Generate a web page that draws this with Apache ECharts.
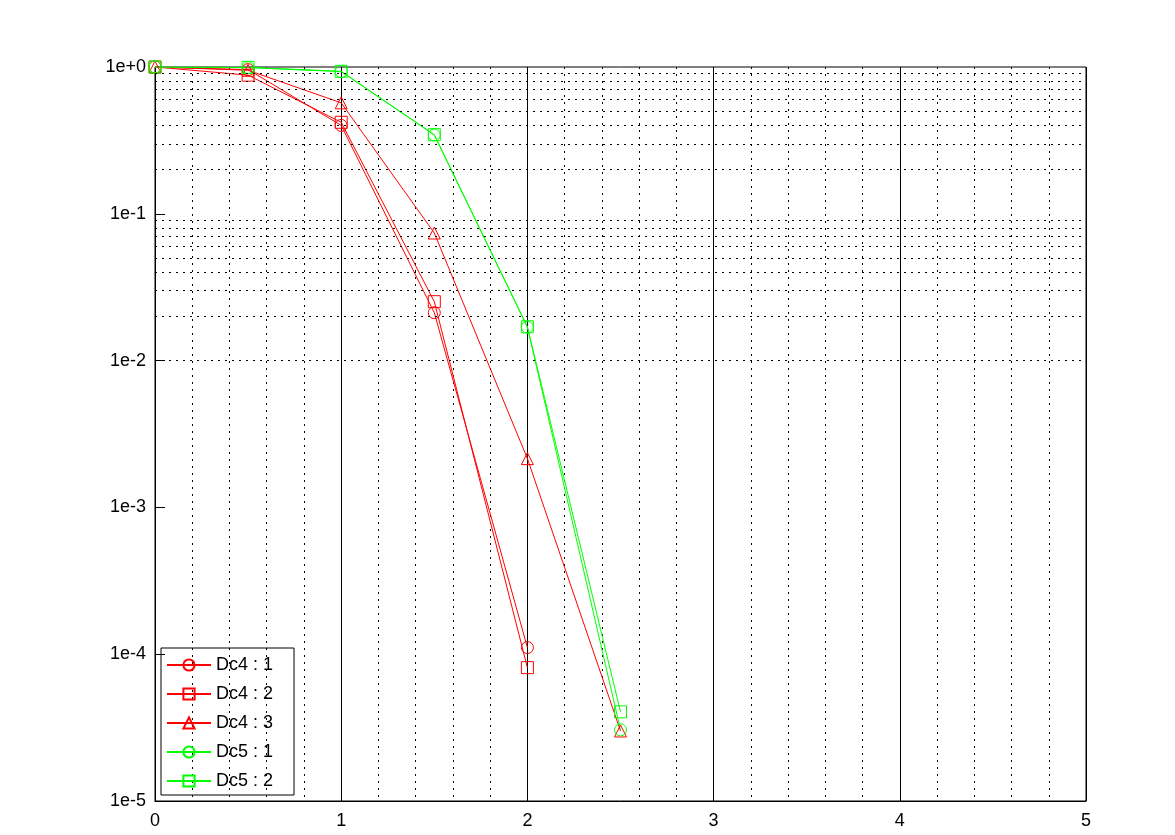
<!DOCTYPE html>
<html>
<head>
<meta charset="utf-8">
<title>Dc4 / Dc5</title>
<script src="https://cdn.jsdelivr.net/npm/echarts@6/dist/echarts.min.js"></script>
<style>
  html, body { margin: 0; padding: 0; background: #fff; }
  #chart { width: 1175px; height: 835px; }
</style>
</head>
<body>
<div id="chart"></div>
<script>
// x positions (same for every curve)
const xs = [0, 0.5, 1, 1.5, 2, 2.5]

// values, null where the curve stops
const dc4_1 = [1, 0.96, 0.40, 0.0212, 1.11e-4, null]
const dc4_2 = [1, 0.88, 0.42, 0.0252, 8.1e-5, null]
const dc4_3 = [1, 0.95, 0.57, 0.074, 2.15e-3, 3.0e-5]
const dc5_1 = [1, 0.99, 0.93, 0.344, 0.0169, 3.05e-5]
const dc5_2 = [1, 0.995, 0.935, 0.346, 0.0170, 4.05e-5]

const seriesNames = ['Dc4 : 1', 'Dc4 : 2', 'Dc4 : 3', 'Dc5 : 1', 'Dc5 : 2']
const seriesData = [dc4_1, dc4_2, dc4_3, dc5_1, dc5_2]
const seriesColors = ['#ff0000', '#ff0000', '#ff0000', '#00ff00', '#00ff00']
const seriesSymbols = ['circle', 'rect', 'triangle', 'circle', 'rect']

// minor log grid: 2..9 x 10^k for each decade shown
const minorGridY = []
for (let k = -5; k < 0; k++) {
  for (let m = 2; m <= 9; m++) minorGridY.push(m * Math.pow(10, k))
}

const dotted = { color: '#000', width: 1, type: [2, 5] }

const chart = echarts.init(document.getElementById('chart'))

const series = seriesData.map((vals, i) => ({
  name: seriesNames[i],
  type: 'line',
  data: xs.map((x, j) => (vals[j] == null ? null : [x, vals[j]])).filter(d => d),
  symbol: seriesSymbols[i],
  symbolSize: 12,
  showAllSymbol: true,
  lineStyle: { color: seriesColors[i], width: 1 },
  itemStyle: { color: 'transparent', borderColor: seriesColors[i], borderWidth: 1 },
  emphasis: { disabled: true },
  z: 3
}))

// horizontal dotted minor grid lines
series[0].markLine = {
  silent: true,
  symbol: 'none',
  animation: false,
  label: { show: false },
  lineStyle: dotted,
  emphasis: { disabled: true },
  data: minorGridY.map(v => ({ yAxis: v }))
}

chart.setOption({
  animation: false,
  textStyle: { fontFamily: 'Liberation Sans, Arial, sans-serif' },
  grid: {
    left: 155,
    right: 89,
    top: 67,
    bottom: 34,
    show: true,
    borderColor: '#000',
    borderWidth: 1,
    backgroundColor: 'transparent'
  },
  legend: {
    orient: 'vertical',
    left: 161,
    top: 648,
    padding: [8, 21, 5, 5],
    itemWidth: 44,
    itemHeight: 14,
    itemGap: 11,
    borderColor: '#000',
    borderWidth: 1,
    backgroundColor: 'transparent',
    selectedMode: false,
    textStyle: { fontSize: 18, color: '#000' },
    data: seriesNames
  },
  xAxis: {
    type: 'value',
    min: 0,
    max: 5,
    interval: 1,
    axisLine: { show: true, lineStyle: { color: '#000', width: 1 } },
    axisTick: { show: false },
    axisLabel: { color: '#000', fontSize: 18, margin: 11 },
    splitLine: { show: true, lineStyle: { color: '#000', width: 1, type: 'solid' } },
    minorTick: { show: false, splitNumber: 5 },
    minorSplitLine: { show: true, lineStyle: dotted }
  },
  yAxis: {
    type: 'log',
    logBase: 10,
    min: 1e-5,
    max: 1,
    axisLine: { show: true, lineStyle: { color: '#000', width: 1 } },
    axisTick: { show: true, inside: true, length: 10, lineStyle: { color: '#000' } },
    axisLabel: {
      color: '#000',
      fontSize: 18,
      margin: 9,
      formatter: v => {
        const e = Math.round(Math.log10(v))
        return '1e' + (e >= 0 ? '+' : '') + e
      }
    },
    splitLine: { show: false }
  },
  series: series
})
</script>
</body>
</html>
